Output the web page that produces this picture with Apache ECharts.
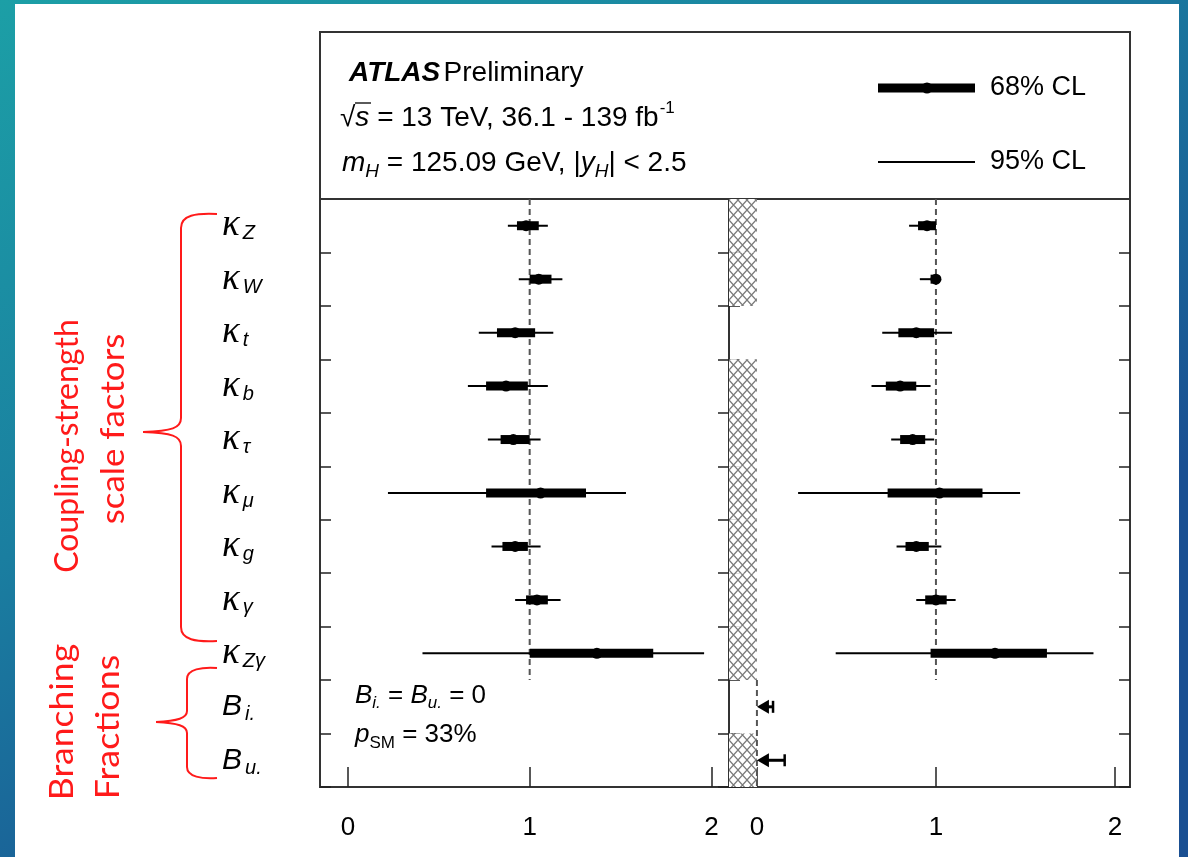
<!DOCTYPE html>
<html>
<head>
<meta charset="utf-8">
<script src="https://cdn.jsdelivr.net/npm/echarts@6/dist/echarts.min.js"></script>
<style>
html, body { margin: 0; padding: 0; background: #fff; }
#chart { width: 1188px; height: 857px; }
</style>
</head>
<body>
<div id="chart"></div>
<script>
// Parameters (rows, top to bottom); "symbol|subscript"
const rows = ['κ|Z', 'κ|W', 'κ|t', 'κ|b', 'κ|τ', 'κ|μ', 'κ|g', 'κ|γ', 'κ|Zγ', 'B|i.', 'B|u.'];

// Fit with B_i. = B_u. = 0 (left panel): best fit, 68% and 95% CL intervals
const leftBest  = [0.98, 1.05, 0.92, 0.87, 0.91, 1.06, 0.92, 1.04, 1.37];
const left68Lo  = [0.93, 1.00, 0.82, 0.76, 0.84, 0.76, 0.85, 0.98, 1.00];
const left68Hi  = [1.05, 1.12, 1.03, 0.99, 1.00, 1.31, 0.99, 1.10, 1.68];
const left95Lo  = [0.88, 0.94, 0.72, 0.66, 0.77, 0.22, 0.79, 0.92, 0.41];
const left95Hi  = [1.10, 1.18, 1.13, 1.10, 1.06, 1.53, 1.06, 1.17, 1.96];

// Fit with free branching fractions and kappa_V <= 1 (right panel)
const rightBest = [0.95, 1.00, 0.89, 0.80, 0.87, 1.02, 0.89, 1.00, 1.33];
const right68Lo = [0.90, 0.97, 0.79, 0.72, 0.80, 0.73, 0.83, 0.94, 0.97];
const right68Hi = [1.00, 1.00, 0.99, 0.89, 0.94, 1.26, 0.96, 1.06, 1.62];
const right95Lo = [0.85, 0.91, 0.70, 0.64, 0.75, 0.23, 0.78, 0.89, 0.44];
const right95Hi = [1.00, 1.00, 1.09, 0.97, 0.99, 1.47, 1.03, 1.11, 1.88];

// Branching fraction upper limits (95% CL), rows B_i. and B_u.
const brRows   = [9, 10];
const brLimits = [0.09, 0.155];

// Rows whose negative region is excluded (hatched) in the right panel
const hatchRows = [0, 1, 3, 4, 5, 6, 7, 8, 10];

// Reference (SM) lines: x value, first row, last row
const leftRefX  = [1];  const leftRefFrom  = [0]; const leftRefTo  = [8];
const rightRefX = [1, 0]; const rightRefFrom = [0, 9]; const rightRefTo = [8, 10];

// Axis tick values
const xTicks = [0, 1, 2];

const chart = echarts.init(document.getElementById('chart'), null, { renderer: 'canvas' });

function zipIntervals(best, lo68, hi68, lo95, hi95) {
  return best.map((b, i) => [i, b, lo68[i], hi68[i], lo95[i], hi95[i]]);
}

// cross-hatch pattern
function makeHatch() {
  const c = document.createElement('canvas');
  const w = 9, h = 10;
  c.width = w; c.height = h;
  const g = c.getContext('2d');
  g.fillStyle = '#fff'; g.fillRect(0, 0, w, h);
  g.strokeStyle = '#7a7a7a'; g.lineWidth = 1.3;
  g.beginPath();
  g.moveTo(-1, -1.1); g.lineTo(w + 1, h + 1.1);
  g.moveTo(w + 1, -1.1); g.lineTo(-1, h + 1.1);
  g.stroke();
  return c;
}
const hatchImg = makeHatch();

function renderInterval(params, api) {
  const row = api.value(0);
  const c = api.coord([api.value(1), row]);
  const a68 = api.coord([api.value(2), row]);
  const b68 = api.coord([api.value(3), row]);
  const a95 = api.coord([api.value(4), row]);
  const b95 = api.coord([api.value(5), row]);
  const y = c[1];
  return {
    type: 'group',
    children: [
      { type: 'line', shape: { x1: a95[0], y1: y, x2: b95[0], y2: y }, style: { stroke: '#000', lineWidth: 2 } },
      { type: 'line', shape: { x1: a68[0], y1: y, x2: b68[0], y2: y }, style: { stroke: '#000', lineWidth: 9 } },
      { type: 'circle', shape: { cx: c[0], cy: y, r: 5.5 }, style: { fill: '#000' } }
    ]
  };
}

function renderRef(params, api) {
  const x = api.value(0);
  const band = api.size([0, 1])[1];
  const top = api.coord([x, api.value(1)]);
  const bot = api.coord([x, api.value(2)]);
  return {
    type: 'line',
    shape: { x1: top[0], y1: top[1] - band / 2, x2: top[0], y2: bot[1] + band / 2 },
    style: { stroke: '#555', lineWidth: 2, lineDash: [6, 4] }
  };
}

function renderHatch(params, api) {
  const row = api.value(0);
  const band = api.size([0, 1])[1];
  const z = api.coord([0, row]);
  const x0 = params.coordSys.x;
  return {
    type: 'rect',
    shape: { x: x0, y: z[1] - band / 2, width: z[0] - x0, height: band },
    style: { fill: { image: hatchImg, repeat: 'repeat' } }
  };
}

function renderLimit(params, api) {
  const row = api.value(0);
  const z = api.coord([0, row]);
  const l = api.coord([api.value(1), row]);
  const y = z[1];
  return {
    type: 'group',
    children: [
      { type: 'line', shape: { x1: z[0] + 8, y1: y, x2: l[0], y2: y }, style: { stroke: '#000', lineWidth: 3 } },
      { type: 'line', shape: { x1: l[0], y1: y - 6, x2: l[0], y2: y + 6 }, style: { stroke: '#000', lineWidth: 2.5 } },
      { type: 'polygon', shape: { points: [[z[0], y], [z[0] + 12, y - 7], [z[0] + 12, y + 7]] }, style: { fill: '#000' } }
    ]
  };
}

const sans = 'Liberation Sans, Arial, sans-serif';

function rowLabel(v) {
  const p = v.split('|');
  return p[0] === 'κ' ? '{k|κ}{s|' + p[1] + '}' : '{b|B}{s|' + p[1] + '}';
}

function yAxisFor(gridIndex, position, withLabels) {
  return {
    type: 'category', gridIndex: gridIndex, position: position, data: rows, inverse: true,
    axisLine: { show: false, onZero: false },
    axisTick: { show: true, inside: true, length: 11, lineStyle: { color: '#222', width: 1.5 } },
    splitLine: { show: false },
    axisLabel: withLabels ? {
      show: true, interval: 0, align: 'left', margin: 98,
      formatter: rowLabel,
      rich: {
        k: { fontSize: 37, fontStyle: 'italic', fontFamily: 'Liberation Serif', color: '#000' },
        b: { fontSize: 30, fontStyle: 'italic', fontFamily: sans, color: '#000' },
        s: { fontSize: 20, fontStyle: 'italic', fontFamily: sans, color: '#000', padding: [16, 0, 0, 3] }
      }
    } : { show: false }
  };
}

function xAxisFor(gridIndex, min, max) {
  return {
    type: 'value', gridIndex: gridIndex, min: min, max: max,
    axisLine: { show: false, onZero: false },
    splitLine: { show: false },
    axisTick: { show: true, inside: true, length: 20, customValues: xTicks, lineStyle: { color: '#222', width: 1.5 } },
    axisLabel: { show: true, customValues: xTicks, margin: 28, fontSize: 26, fontFamily: sans, color: '#000' }
  };
}

const red = '#ff1a1a';
const redFont = 'Lato, "Open Sans", sans-serif';

// curly brace built from bezier curves and straight segments
function brace(xEnd, xSpine, xTip, yTop, yTip, yBot, r) {
  const st = { stroke: red, lineWidth: 2, fill: 'none' };
  const seg = [];
  seg.push({ type: 'bezierCurve', z: 5, shape: { x1: xEnd, y1: yTop, cpx1: xSpine + 15, cpy1: yTop - 1, cpx2: xSpine, cpy2: yTop + 1, x2: xSpine, y2: yTop + r }, style: st });
  seg.push({ type: 'line', z: 5, shape: { x1: xSpine, y1: yTop + r, x2: xSpine, y2: yTip - r }, style: st });
  seg.push({ type: 'bezierCurve', z: 5, shape: { x1: xSpine, y1: yTip - r, cpx1: xSpine, cpy1: yTip - 4, cpx2: xSpine - 9, cpy2: yTip - 1, x2: xTip, y2: yTip }, style: st });
  seg.push({ type: 'bezierCurve', z: 5, shape: { x1: xTip, y1: yTip, cpx1: xSpine - 9, cpy1: yTip + 1, cpx2: xSpine, cpy2: yTip + 4, x2: xSpine, y2: yTip + r }, style: st });
  seg.push({ type: 'line', z: 5, shape: { x1: xSpine, y1: yTip + r, x2: xSpine, y2: yBot - r }, style: st });
  seg.push({ type: 'bezierCurve', z: 5, shape: { x1: xSpine, y1: yBot - r, cpx1: xSpine, cpy1: yBot - 1, cpx2: xSpine + 15, cpy2: yBot + 1, x2: xEnd, y2: yBot }, style: st });
  return seg;
}

function redTitle(text, x, y, stretch) {
  return { type: 'text', z: 5, x: x, y: y, rotation: Math.PI / 2, scaleX: stretch,
    style: { text: text, font: '32px ' + redFont, fill: red, align: 'center', verticalAlign: 'middle' } };
}

const option = {
  animation: false,
  backgroundColor: new echarts.graphic.LinearGradient(0, 0, 0.4, 1, [
    { offset: 0, color: '#1c9fa6' },
    { offset: 0.5, color: '#1a7ea0' },
    { offset: 1, color: '#1a4f92' }
  ]),
  grid: [
    { left: 320, top: 199, width: 409, height: 588, show: true, borderColor: '#333', borderWidth: 2, backgroundColor: 'transparent' },
    { left: 729, top: 199, width: 401, height: 588, show: true, borderColor: '#333', borderWidth: 2, backgroundColor: 'transparent' }
  ],
  xAxis: [xAxisFor(0, -0.154, 2.097), xAxisFor(1, -0.156, 2.084)],
  yAxis: [yAxisFor(0, 'left', true), yAxisFor(0, 'right', false), yAxisFor(1, 'left', false), yAxisFor(1, 'right', false)],
  graphic: [
    // slide panel and header box
    { type: 'rect', z: -100, shape: { x: 15, y: 4, width: 1164, height: 853 }, style: { fill: '#fff' } },
    { type: 'rect', z: 1, shape: { x: 320, y: 32, width: 810, height: 167 }, style: { fill: 'transparent', stroke: '#333', lineWidth: 2 } },
    // header text
    { type: 'text', z: 5, x: 349, y: 73, style: {
        text: '{a|ATLAS} {n|Preliminary}', verticalAlign: 'middle',
        rich: { a: { font: 'italic bold 28px ' + sans, fill: '#000' }, n: { font: '28px ' + sans, fill: '#000' } } } },
    { type: 'text', z: 5, x: 340, y: 118, style: {
        text: '{n|√}{i|s}{n| = 13 TeV, 36.1 - 139 fb}{p|-1}', verticalAlign: 'middle',
        rich: { n: { font: '28px ' + sans, fill: '#000' }, i: { font: 'italic 28px ' + sans, fill: '#000' },
                p: { font: '17px ' + sans, fill: '#000', padding: [0, 0, 20, 1] } } } },
    { type: 'line', z: 5, shape: { x1: 355, y1: 103, x2: 371, y2: 103 }, style: { stroke: '#000', lineWidth: 1.3 } },
    { type: 'text', z: 5, x: 342, y: 163, style: {
        text: '{i|m}{s|H}{n| = 125.09 GeV, |}{i|y}{s|H}{n|| < 2.5}', verticalAlign: 'middle',
        rich: { n: { font: '28px ' + sans, fill: '#000' }, i: { font: 'italic 28px ' + sans, fill: '#000' },
                s: { font: 'italic 19px ' + sans, fill: '#000', padding: [18, 0, 0, 0] } } } },
    // legend
    { type: 'line', z: 5, shape: { x1: 878, y1: 88, x2: 975, y2: 88 }, style: { stroke: '#000', lineWidth: 9 } },
    { type: 'circle', z: 5, shape: { cx: 927, cy: 88, r: 5.5 }, style: { fill: '#000' } },
    { type: 'text', z: 5, x: 990, y: 88, style: { text: '68% CL', font: '27px ' + sans, fill: '#000', verticalAlign: 'middle' } },
    { type: 'line', z: 5, shape: { x1: 878, y1: 162, x2: 975, y2: 162 }, style: { stroke: '#000', lineWidth: 2 } },
    { type: 'text', z: 5, x: 990, y: 162, style: { text: '95% CL', font: '27px ' + sans, fill: '#000', verticalAlign: 'middle' } },
    // fit annotations in the left panel
    { type: 'text', z: 5, x: 355, y: 696, style: {
        text: '{i|B}{s|i.}{n| = }{i|B}{s|u.}{n| = 0}', verticalAlign: 'middle',
        rich: { n: { font: '26px ' + sans, fill: '#000' }, i: { font: 'italic 26px ' + sans, fill: '#000' },
                s: { font: 'italic 17px ' + sans, fill: '#000', padding: [14, 0, 0, 0] } } } },
    { type: 'text', z: 5, x: 355, y: 735, style: {
        text: '{i|p}{s|SM}{n| = 33%}', verticalAlign: 'middle',
        rich: { n: { font: '26px ' + sans, fill: '#000' }, i: { font: 'italic 26px ' + sans, fill: '#000' },
                s: { font: '17px ' + sans, fill: '#000', padding: [16, 0, 0, 0] } } } },
    // group braces
    ...brace(217, 181, 143, 214, 432, 641, 14),
    ...brace(217, 187, 156, 668, 722, 778, 11),
    // group titles
    redTitle('Coupling-strength', 68, 446, 1.0),
    redTitle('scale factors', 114, 429, 1.09),
    redTitle('Branching', 63, 722, 1.11),
    redTitle('Fractions', 109, 727, 1.12)
  ],
  series: [
    { type: 'custom', name: 'hatch', xAxisIndex: 1, yAxisIndex: 2, renderItem: renderHatch, clip: true,
      data: hatchRows.map(r => [r]), encode: { y: 0 } },
    { type: 'custom', name: 'SM left', xAxisIndex: 0, yAxisIndex: 0, renderItem: renderRef,
      data: leftRefX.map((x, i) => [x, leftRefFrom[i], leftRefTo[i]]), encode: { x: 0, y: [1, 2] } },
    { type: 'custom', name: 'SM right', xAxisIndex: 1, yAxisIndex: 2, renderItem: renderRef,
      data: rightRefX.map((x, i) => [x, rightRefFrom[i], rightRefTo[i]]), encode: { x: 0, y: [1, 2] } },
    { type: 'custom', name: 'B = 0', xAxisIndex: 0, yAxisIndex: 0, renderItem: renderInterval,
      data: zipIntervals(leftBest, left68Lo, left68Hi, left95Lo, left95Hi), encode: { x: [1, 2, 3, 4, 5], y: 0 } },
    { type: 'custom', name: 'B free', xAxisIndex: 1, yAxisIndex: 2, renderItem: renderInterval,
      data: zipIntervals(rightBest, right68Lo, right68Hi, right95Lo, right95Hi), encode: { x: [1, 2, 3, 4, 5], y: 0 } },
    { type: 'custom', name: 'BR limits', xAxisIndex: 1, yAxisIndex: 2, renderItem: renderLimit,
      data: brRows.map((r, i) => [r, brLimits[i]]), encode: { x: 1, y: 0 } }
  ]
};

chart.setOption(option);
</script>
</body>
</html>
